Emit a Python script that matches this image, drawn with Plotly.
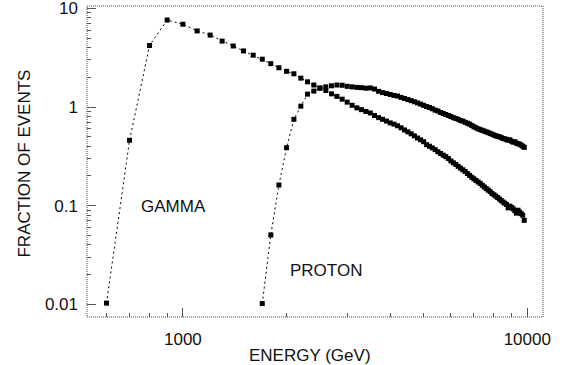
import plotly.graph_objects as go

# ---- data ----
gamma_energy = [600, 700, 800, 900, 1000, 1100, 1200, 1300, 1400, 1500, 1600, 1700, 1800, 1900,
                2000, 2100, 2200, 2300, 2400, 2500, 2600, 2700, 2800, 2900, 3000, 3100, 3200, 3300,
                3400, 3500, 3600, 3700, 3800, 3900, 4000, 4100, 4200, 4300, 4400, 4500, 4600, 4700,
                4800, 4900, 5000, 5100, 5200, 5300, 5400, 5500, 5600, 5700, 5800, 5900, 6000, 6100,
                6200, 6300, 6400, 6500, 6600, 6700, 6800, 6900, 7000, 7100, 7200, 7300, 7400, 7500,
                7600, 7700, 7800, 7900, 8000, 8100, 8200, 8300, 8400, 8500, 8600, 8700, 8800, 8900,
                9000, 9100, 9200, 9300, 9400, 9500, 9600, 9700, 9800]
gamma_fraction = [0.0103, 0.46, 4.2, 7.6, 6.9, 5.9, 5.35, 4.65, 4.15, 3.7, 3.35, 3.05, 2.75, 2.5,
                  2.3, 2.17, 1.96, 1.8, 1.67, 1.56, 1.47, 1.36, 1.28, 1.2, 1.12, 1.04, 0.98, 0.94,
                  0.9, 0.87, 0.82, 0.78, 0.75, 0.72, 0.69, 0.67, 0.645, 0.615, 0.585, 0.56, 0.535, 0.51,
                  0.485, 0.465, 0.445, 0.415, 0.4, 0.385, 0.37, 0.352, 0.338, 0.325, 0.314, 0.3, 0.284, 0.272,
                  0.262, 0.25, 0.24, 0.231, 0.222, 0.212, 0.203, 0.194, 0.187, 0.18, 0.174, 0.168, 0.161, 0.155,
                  0.149, 0.144, 0.139, 0.133, 0.129, 0.125, 0.121, 0.117, 0.113, 0.109, 0.106, 0.103, 0.095, 0.099,
                  0.096, 0.093, 0.089, 0.084, 0.09, 0.086, 0.083, 0.08, 0.071]

proton_energy = [1700, 1800, 1900, 2000, 2100, 2200, 2300, 2400, 2500, 2600, 2700, 2800, 2900, 3000,
                 3100, 3200, 3300, 3400, 3500, 3600, 3700, 3800, 3900, 4000, 4100, 4200, 4300, 4400,
                 4500, 4600, 4700, 4800, 4900, 5000, 5100, 5200, 5300, 5400, 5500, 5600, 5700, 5800,
                 5900, 6000, 6100, 6200, 6300, 6400, 6500, 6600, 6700, 6800, 6900, 7000, 7100, 7200,
                 7300, 7400, 7500, 7600, 7700, 7800, 7900, 8000, 8100, 8200, 8300, 8400, 8500, 8600,
                 8700, 8800, 8900, 9000, 9100, 9200, 9300, 9400, 9500, 9600, 9700, 9800]
proton_fraction = [0.0102, 0.0505, 0.162, 0.387, 0.75, 1.02, 1.35, 1.45, 1.55, 1.6, 1.64, 1.67, 1.66, 1.62,
                   1.6, 1.58, 1.57, 1.55, 1.56, 1.52, 1.44, 1.4, 1.37, 1.34, 1.31, 1.29, 1.25, 1.22,
                   1.19, 1.16, 1.13, 1.1, 1.07, 1.04, 1.01, 0.99, 0.96, 0.93, 0.91, 0.88, 0.86, 0.84,
                   0.82, 0.8, 0.78, 0.765, 0.75, 0.73, 0.72, 0.7, 0.685, 0.67, 0.65, 0.63, 0.615, 0.6,
                   0.59, 0.58, 0.57, 0.56, 0.55, 0.54, 0.53, 0.52, 0.51, 0.505, 0.5, 0.49, 0.48, 0.475,
                   0.47, 0.46, 0.465, 0.45, 0.44, 0.445, 0.43, 0.425, 0.42, 0.41, 0.4, 0.39]

x_major = [1000, 10000]
x_major_text = ["1000", "10000"]
x_minor = [600, 700, 800, 900, 2000, 3000, 4000, 5000, 6000, 7000, 8000, 9000]
y_major = [0.01, 0.1, 1, 10]
y_major_text = ["0.01", "0.1", "1", "10"]
y_minor = [0.02, 0.03, 0.04, 0.05, 0.06, 0.07, 0.08, 0.09,
           0.2, 0.3, 0.4, 0.5, 0.6, 0.7, 0.8, 0.9,
           2, 3, 4, 5, 6, 7, 8, 9]

FONT = "Liberation Sans, Arial, Helvetica, sans-serif"
INK = "#111111"
TICK = "#555555"

fig = go.Figure()
for xs, ys in [(gamma_energy, gamma_fraction), (proton_energy, proton_fraction)]:
    fig.add_trace(go.Scatter(
        x=xs, y=ys, mode="lines+markers",
        line=dict(color="black", width=1, dash="2px,3px"),
        marker=dict(symbol="square", size=5, color="black"),
        showlegend=False, hoverinfo="x+y"))

fig.update_layout(
    width=562, height=365,
    margin=dict(l=87, r=19, t=6, b=48),
    paper_bgcolor="white", plot_bgcolor="white",
    font=dict(family=FONT, size=17, color=INK),
    xaxis=dict(type="log", range=[2.7215, 4.0456], showgrid=False, zeroline=False,
               showline=False, tickmode="array", tickvals=x_major, ticktext=x_major_text,
               ticks="inside", ticklen=9, tickwidth=1, tickcolor=TICK,
               ticklabelstandoff=10, ticklabeloverflow="allow", automargin=False,
               minor=dict(tickmode="array", tickvals=x_minor, ticks="inside",
                          ticklen=4, tickwidth=1, tickcolor=TICK, showgrid=False)),
    yaxis=dict(type="log", range=[-2.1277, 1.0233], showgrid=False, zeroline=False,
               showline=False, tickmode="array", tickvals=y_major, ticktext=y_major_text,
               ticks="inside", ticklen=9, tickwidth=1, tickcolor=TICK,
               ticklabelstandoff=8, ticklabeloverflow="allow", automargin=False,
               minor=dict(tickmode="array", tickvals=y_minor, ticks="inside",
                          ticklen=4, tickwidth=1, tickcolor=TICK, showgrid=False)),
)

# dotted frame
fig.add_shape(type="rect", xref="paper", yref="paper", x0=0, y0=0, x1=1, y1=1,
              line=dict(color="#444444", width=1, dash="1px,1px"), layer="above")

annotations = [
    dict(text="GAMMA", x=0.1897, y=0.3553),
    dict(text="PROTON", x=0.524, y=0.151),
    dict(text="ENERGY (GeV)", x=0.489, y=-0.1254),
    dict(text="FRACTION OF EVENTS", x=-0.137, y=0.492, textangle=-90),
]
for a in annotations:
    fig.add_annotation(xref="paper", yref="paper", showarrow=False,
                       xanchor="center", yanchor="middle",
                       font=dict(family=FONT, size=17, color=INK), **a)

fig.write_html("out.html")
